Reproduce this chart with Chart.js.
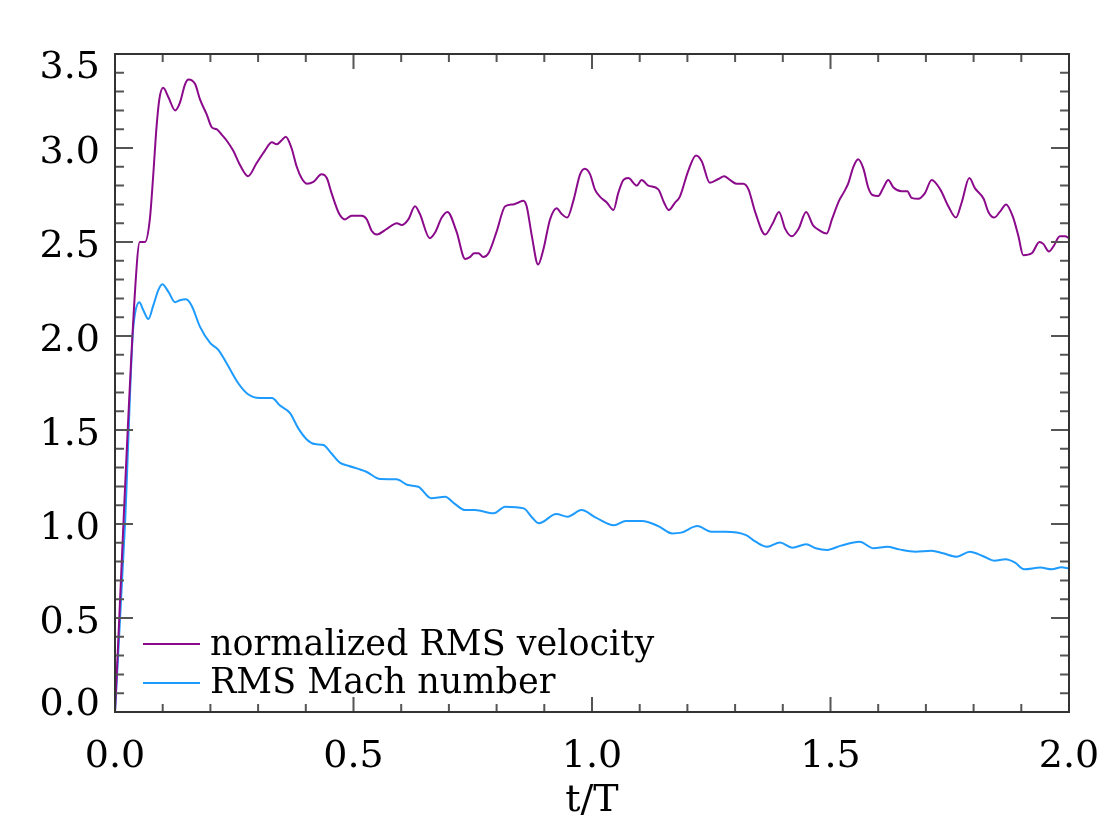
<!DOCTYPE html>
<html>
<head>
<meta charset="utf-8">
<script src="https://cdn.jsdelivr.net/npm/chart.js@4.4.1/dist/chart.umd.min.js"></script>
<style>
  html, body { margin: 0; padding: 0; background: #fff; }
  #wrap { width: 1101px; height: 818px; position: relative; }
</style>
</head>
<body>
<div id="wrap"><canvas id="chart"></canvas></div>
<script>
'use strict';
(function () {
    // normalized RMS velocity (t/T, value)
    const velT = [
        0.000, 0.042, 0.052, 0.063, 0.073, 0.080, 0.087, 0.093, 0.101, 0.112,
        0.126, 0.136, 0.147, 0.154, 0.168, 0.178, 0.192, 0.203, 0.213, 0.224,
        0.234, 0.248, 0.262, 0.279, 0.297, 0.314, 0.329, 0.339, 0.349, 0.358,
        0.370, 0.381, 0.391, 0.402, 0.416, 0.433, 0.444, 0.454, 0.470, 0.482,
        0.496, 0.517, 0.528, 0.538, 0.549, 0.570, 0.591, 0.601, 0.615, 0.629,
        0.639, 0.660, 0.671, 0.685, 0.697, 0.716, 0.734, 0.744, 0.753, 0.762,
        0.772, 0.783, 0.800, 0.818, 0.835, 0.846, 0.856, 0.863, 0.874, 0.887,
        0.898, 0.912, 0.926, 0.936, 0.948, 0.961, 0.975, 0.985, 0.996, 1.006,
        1.017, 1.031, 1.045, 1.055, 1.066, 1.076, 1.094, 1.104, 1.118, 1.139,
        1.151, 1.161, 1.174, 1.184, 1.202, 1.218, 1.230, 1.247, 1.265, 1.277,
        1.289, 1.303, 1.317, 1.328, 1.342, 1.363, 1.379, 1.392, 1.405, 1.419,
        1.433, 1.449, 1.463, 1.478, 1.492, 1.503, 1.518, 1.527, 1.537, 1.548,
        1.558, 1.569, 1.579, 1.588, 1.600, 1.611, 1.621, 1.632, 1.649, 1.661,
        1.670, 1.684, 1.698, 1.712, 1.730, 1.747, 1.763, 1.775, 1.791, 1.803,
        1.821, 1.831, 1.843, 1.855, 1.868, 1.883, 1.894, 1.904, 1.922, 1.938,
        1.946, 1.958, 1.967, 1.981, 1.992, 2.000
    ];
    const velV = [
        0.00, 2.24, 2.50, 2.50, 2.62, 2.85, 3.11, 3.26, 3.32, 3.27,
        3.20, 3.24, 3.34, 3.365, 3.34, 3.26, 3.18, 3.11, 3.10, 3.07,
        3.04, 2.985, 2.91, 2.85, 2.92, 2.985, 3.03, 3.02, 3.04, 3.06,
        3.00, 2.90, 2.84, 2.81, 2.82, 2.86, 2.84, 2.76, 2.65, 2.62,
        2.64, 2.64, 2.62, 2.56, 2.54, 2.57, 2.60, 2.59, 2.62, 2.69,
        2.65, 2.52, 2.55, 2.63, 2.66, 2.555, 2.41, 2.42, 2.44, 2.44,
        2.42, 2.44, 2.555, 2.69, 2.70, 2.71, 2.72, 2.69, 2.53, 2.38,
        2.46, 2.62, 2.68, 2.65, 2.63, 2.72, 2.86, 2.89, 2.86, 2.78,
        2.74, 2.71, 2.67, 2.76, 2.83, 2.84, 2.80, 2.83, 2.80, 2.78,
        2.71, 2.67, 2.71, 2.74, 2.88, 2.96, 2.93, 2.815, 2.835, 2.85,
        2.83, 2.81, 2.81, 2.78, 2.66, 2.54, 2.60, 2.66, 2.57, 2.53,
        2.57, 2.66, 2.59, 2.56, 2.545, 2.62, 2.72, 2.76, 2.81, 2.90,
        2.94, 2.89, 2.79, 2.75, 2.745, 2.79, 2.83, 2.79, 2.77, 2.77,
        2.735, 2.73, 2.76, 2.83, 2.78, 2.69, 2.63, 2.71, 2.84, 2.785,
        2.73, 2.66, 2.63, 2.66, 2.70, 2.63, 2.53, 2.43, 2.44, 2.50,
        2.49, 2.45, 2.475, 2.53, 2.53, 2.52
    ];

    // RMS Mach number (t/T, value)
    const machT = [
        0.000, 0.021, 0.037, 0.042, 0.051, 0.059, 0.070, 0.080, 0.091, 0.099,
        0.112, 0.126, 0.136, 0.149, 0.161, 0.178, 0.199, 0.217, 0.234, 0.258,
        0.279, 0.304, 0.329, 0.346, 0.367, 0.384, 0.402, 0.419, 0.437, 0.454,
        0.472, 0.489, 0.527, 0.556, 0.590, 0.614, 0.636, 0.663, 0.692, 0.711,
        0.734, 0.755, 0.794, 0.818, 0.857, 0.873, 0.889, 0.925, 0.949, 0.978,
        1.008, 1.046, 1.071, 1.105, 1.139, 1.168, 1.187, 1.221, 1.250, 1.279,
        1.323, 1.343, 1.367, 1.394, 1.420, 1.449, 1.469, 1.493, 1.522, 1.561,
        1.590, 1.619, 1.644, 1.678, 1.712, 1.736, 1.765, 1.792, 1.819, 1.843,
        1.867, 1.887, 1.906, 1.940, 1.964, 1.984, 2.000
    ];
    const machV = [
        0.00, 1.00, 2.00, 2.12, 2.18, 2.14, 2.09, 2.16, 2.245, 2.275,
        2.235, 2.18, 2.19, 2.195, 2.16, 2.05, 1.965, 1.925, 1.855, 1.75,
        1.69, 1.67, 1.67, 1.63, 1.59, 1.51, 1.45, 1.425, 1.42, 1.375,
        1.325, 1.31, 1.278, 1.239, 1.238, 1.207, 1.198, 1.137, 1.145, 1.110,
        1.074, 1.074, 1.057, 1.092, 1.083, 1.039, 1.004, 1.053, 1.039, 1.074,
        1.034, 0.993, 1.016, 1.016, 0.989, 0.950, 0.954, 0.989, 0.959, 0.959,
        0.941, 0.906, 0.879, 0.901, 0.874, 0.892, 0.871, 0.862, 0.885, 0.906,
        0.871, 0.879, 0.865, 0.853, 0.858, 0.844, 0.826, 0.853, 0.830, 0.805,
        0.812, 0.794, 0.759, 0.768, 0.759, 0.770, 0.764
    ];

    const seriesNames = ['normalized RMS velocity', 'RMS Mach number'];
    const xTickLabels = ['0.0', '0.5', '1.0', '1.5', '2.0'];
    const yTickLabels = ['0.0', '0.5', '1.0', '1.5', '2.0', '2.5', '3.0', '3.5'];
    const xTitle = 't/T';
    const minorStep = 0.1;

    const serif = '"DejaVu Serif", serif';

    function toPoints(ts, vs) {
        return ts.map(function (t, i) { return { x: t, y: vs[i] }; });
    }

    // IDL-style frame: closed box, inward ticks on all four sides, labels
    const idlFrame = {
        id: 'idlFrame',
        afterDraw: function (chart) {
            const ctx = chart.ctx;
            const a = chart.chartArea;
            const xs = chart.scales.x;
            const ys = chart.scales.y;
            ctx.save();

            // ticks
            ctx.strokeStyle = '#555';
            ctx.lineWidth = 2;
            ctx.beginPath();
            const nx = Math.round((xs.max - xs.min) / minorStep);
            for (let i = 0; i <= nx; i++) {
                const px = xs.getPixelForValue(xs.min + i * minorStep);
                const len = i % 5 === 0 ? 15 : 8;
                ctx.moveTo(px, a.bottom); ctx.lineTo(px, a.bottom - len);
                ctx.moveTo(px, a.top); ctx.lineTo(px, a.top + len);
            }
            const ny = Math.round((ys.max - ys.min) / minorStep);
            for (let i = 0; i <= ny; i++) {
                const py = ys.getPixelForValue(ys.min + i * minorStep);
                const len = i % 5 === 0 ? 18 : 9;
                ctx.moveTo(a.left, py); ctx.lineTo(a.left + len, py);
                ctx.moveTo(a.right, py); ctx.lineTo(a.right - len, py);
            }
            ctx.stroke();

            // box
            ctx.strokeStyle = '#333';
            ctx.strokeRect(a.left, a.top, a.right - a.left, a.bottom - a.top);

            // tick labels
            ctx.fillStyle = '#000';
            ctx.font = '38px ' + serif;
            ctx.textBaseline = 'alphabetic';
            ctx.textAlign = 'center';
            xTickLabels.forEach(function (lab) {
                ctx.fillText(lab, xs.getPixelForValue(parseFloat(lab)), 767);
            });
            ctx.textAlign = 'right';
            yTickLabels.forEach(function (lab, i) {
                const py = ys.getPixelForValue(parseFloat(lab));
                let off = 15;
                if (i === 0) off = 3;
                if (i === yTickLabels.length - 1) off = 24;
                ctx.fillText(lab, 100, py + off);
            });

            // axis title
            ctx.textAlign = 'center';
            ctx.fillText(xTitle, (a.left + a.right) / 2, 811);

            // legend
            ctx.font = '35px ' + serif;
            ctx.textAlign = 'left';
            chart.data.datasets.forEach(function (ds, i) {
                const ly = 644 + i * 39;
                ctx.strokeStyle = ds.borderColor;
                ctx.lineWidth = 2;
                ctx.beginPath();
                ctx.moveTo(143, ly);
                ctx.lineTo(200, ly);
                ctx.stroke();
                ctx.fillText(ds.label, 210, 655 + i * 38);
            });

            ctx.restore();
        }
    };

    const ctx = document.getElementById('chart').getContext('2d');
    new Chart(ctx, {
        type: 'line',
        data: {
            datasets: [{
                label: seriesNames[0],
                data: toPoints(velT, velV),
                borderColor: '#8b0a8b',
                borderWidth: 2,
                pointRadius: 0,
                cubicInterpolationMode: 'monotone'
            }, {
                label: seriesNames[1],
                data: toPoints(machT, machV),
                borderColor: '#1e9bff',
                borderWidth: 2,
                pointRadius: 0,
                cubicInterpolationMode: 'monotone'
            }]
        },
        options: {
            responsive: true,
            maintainAspectRatio: false,
            animation: false,
            events: [],
            layout: { padding: { top: 54, right: 32, left: 0, bottom: 0 } },
            plugins: {
                legend: { display: false },
                tooltip: { enabled: false }
            },
            scales: {
                x: {
                    type: 'linear',
                    min: 0,
                    max: 2,
                    ticks: { display: false },
                    grid: { display: false },
                    border: { display: false },
                    afterFit: function (s) { s.height = 106; }
                },
                y: {
                    min: 0,
                    max: 3.5,
                    ticks: { display: false },
                    grid: { display: false },
                    border: { display: false },
                    afterFit: function (s) { s.width = 115; }
                }
            }
        },
        plugins: [idlFrame]
    });
})();
</script>
</body>
</html>
